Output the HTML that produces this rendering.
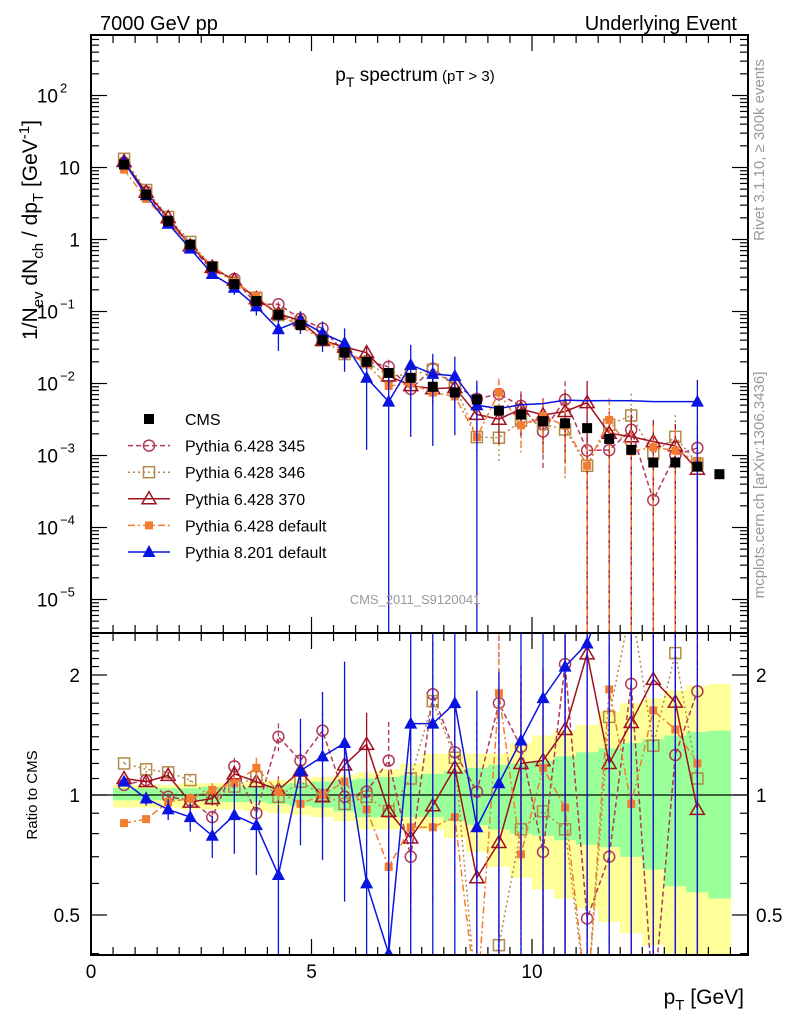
<!DOCTYPE html>
<html><head><meta charset="utf-8"><style>
html,body{margin:0;padding:0;background:#fff;width:786px;height:1024px;overflow:hidden;}
svg{display:block;font-family:"Liberation Sans",sans-serif;}
</style></head><body>
<svg id="chart" width="786" height="1024" viewBox="0 0 786 1024" xmlns="http://www.w3.org/2000/svg">
<defs>
<clipPath id="clipTop"><rect x="91" y="35" width="657" height="598"/></clipPath>
<clipPath id="clipBot"><rect x="91" y="633" width="657" height="322"/></clipPath>
</defs>
<rect width="786" height="1024" fill="#fff"/>
<g id="bands" clip-path="url(#clipBot)"></g>
<g id="marksTop" clip-path="url(#clipTop)"></g>
<g id="marksBot" clip-path="url(#clipBot)"></g>
<g id="axes"></g>
<text x="100" y="30" font-size="20">7000 GeV pp</text>
<text x="737" y="30" font-size="20" text-anchor="end">Underlying Event</text>
<text x="415" y="81" font-size="19" text-anchor="middle">p<tspan font-size="14" dy="6">T</tspan><tspan dy="-6"> spectrum</tspan><tspan font-size="15"> (pT &gt;  3)</tspan></text>
<text x="415" y="604" font-size="13" fill="#999" text-anchor="middle">CMS_2011_S9120041</text>
<text transform="translate(764,150) rotate(-90)" font-size="15" fill="#999" text-anchor="middle">Rivet 3.1.10, ≥ 300k events</text>
<text transform="translate(764,485) rotate(-90)" font-size="15" fill="#999" text-anchor="middle">mcplots.cern.ch [arXiv:1306.3436]</text>
<text transform="translate(37,230) rotate(-90)" font-size="21" text-anchor="middle">1/N<tspan font-size="15" dy="6">ev</tspan><tspan dy="-6"> dN</tspan><tspan font-size="15" dy="6">ch</tspan><tspan dy="-6"> / dp</tspan><tspan font-size="15" dy="6">T</tspan><tspan dy="-6"> [GeV</tspan><tspan font-size="15" dy="-8">-1</tspan><tspan dy="8">]</tspan></text>
<text transform="translate(37,795) rotate(-90)" font-size="15" text-anchor="middle">Ratio to CMS</text>
<text x="744" y="1004" font-size="21" text-anchor="end">p<tspan font-size="15" dy="6">T</tspan><tspan dy="-6"> [GeV]</tspan></text>
<g id="legend"></g>
</svg>
<script>
// ---- data ----
const binCenters = [0.75,1.25,1.75,2.25,2.75,3.25,3.75,4.25,4.75,5.25,5.75,6.25,6.75,7.25,7.75,8.25,8.75,9.25,9.75,10.25,10.75,11.25,11.75,12.25,12.75,13.25,13.75,14.25];
const cmsValues = [11,4.2,1.8,0.85,0.42,0.24,0.14,0.09,0.065,0.04,0.027,0.02,0.014,0.012,0.009,0.0075,0.006,0.0042,0.0037,0.003,0.0028,0.0024,0.0017,0.0012,0.0008,0.0008,0.0007,0.00055];
const bandYellowUp = [1.06,1.06,1.06,1.07,1.07,1.07,1.08,1.09,1.10,1.11,1.12,1.14,1.16,1.20,1.27,1.27,1.27,1.27,1.35,1.41,1.45,1.50,1.62,1.70,1.75,1.83,1.88,1.90];
const bandYellowDown = [0.93,0.93,0.93,0.92,0.92,0.92,0.91,0.90,0.89,0.88,0.86,0.82,0.82,0.82,0.82,0.78,0.72,0.66,0.62,0.58,0.55,0.52,0.48,0.45,0.42,0.40,0.37,0.35];
const bandGreenUp = [1.04,1.04,1.04,1.04,1.05,1.05,1.05,1.06,1.07,1.08,1.09,1.10,1.11,1.12,1.13,1.15,1.17,1.19,1.20,1.22,1.25,1.28,1.31,1.35,1.38,1.41,1.44,1.45];
const bandGreenDown = [0.97,0.97,0.97,0.97,0.96,0.96,0.96,0.95,0.94,0.93,0.91,0.88,0.88,0.88,0.88,0.86,0.84,0.82,0.80,0.79,0.77,0.75,0.74,0.70,0.65,0.59,0.57,0.55];
const ratio345 = [1.06,1.09,0.99,0.97,0.88,1.18,0.90,1.40,1.22,1.45,0.99,1.02,1.22,0.70,1.79,1.28,1.02,1.70,1.32,0.72,2.13,0.49,0.70,1.90,0.30,1.26,1.82];
const ratio346 = [1.20,1.16,1.14,1.09,0.98,1.05,1.11,0.99,1.08,1.00,0.95,0.99,0.91,1.10,1.72,1.24,0.30,0.42,0.82,0.91,0.82,0.30,1.57,3.00,1.33,2.27,1.10];
const ratio370 = [1.10,1.08,1.12,0.96,0.98,1.13,1.08,1.03,1.15,0.99,1.19,1.34,0.91,0.78,0.94,1.17,0.62,0.76,1.20,1.22,1.46,2.26,1.20,1.52,1.95,1.71,0.92];
const ratio6def = [0.85,0.87,0.96,0.98,1.03,1.07,1.17,1.02,0.95,1.00,1.08,0.92,0.66,0.83,0.83,0.88,0.30,1.80,0.71,1.17,0.93,0.30,1.84,0.95,1.63,1.46,1.20];
const ratio8def = [1.08,0.98,0.92,0.88,0.79,0.89,0.84,0.63,1.15,1.25,1.35,0.60,0.40,1.51,1.51,1.70,0.83,1.07,1.37,1.75,2.10,2.40,3.40,4.80,7.0,7.0,8.0];
const relErr8 = [0.02,0.04,0.06,0.08,0.12,0.2,0.25,0.5,0.35,0.45,0.6,0.9,1.2,0.9,0.9,0.85,1.2,0.9,0.9,0.9,0.9,0.9,0.9,1.0,1.0,1.0,1.0];
const relErrOther = [0.01,0.02,0.02,0.03,0.04,0.05,0.06,0.08,0.1,0.12,0.15,0.2,0.25,0.3,0.35,0.4,0.5,0.55,0.6,0.7,0.8,1.0,1.0,1.0,1.0,1.0,1.0];
const xTickLabels = ["0","5","10"];
const yTopTickLabels = ["10","1"];

// ---- axes functions ----
const X0=91, X1=748, YT0=35, YT1=633, YB1=955;
const xPx = v => 91 + v*44.1;
const yTop = v => 167.5 - (Math.log10(v)-1)*72;
const yBot = r => 795 - Math.log10(r)*398.6;
const clampT = y => Math.max(YT0-5, Math.min(YT1+5, y));
const clampB = y => Math.max(YT1-5, Math.min(YB1+5, y));
const NS='http://www.w3.org/2000/svg';
function mk(tag, attrs, parent){const e=document.createElementNS(NS,tag);for(const k in attrs)e.setAttribute(k,attrs[k]);parent.appendChild(e);return e;}

const bandsG=document.getElementById('bands');
const topG=document.getElementById('marksTop');
const botG=document.getElementById('marksBot');
const axG=document.getElementById('axes');
const legG=document.getElementById('legend');

binCenters.forEach((c,i)=>{
  const xa=xPx(c-0.25), xb=xPx(c+0.25);
  const yu=yBot(bandYellowUp[i]), yd=clampB(yBot(bandYellowDown[i]));
  let r=mk('rect',{x:xa,y:yu,width:xb-xa+0.5,height:yd-yu,fill:'#ffff99'},bandsG);
  
  
  r=mk('rect',{x:xa,y:yBot(bandGreenUp[i]),width:xb-xa+0.5,height:yBot(bandGreenDown[i])-yBot(bandGreenUp[i]),fill:'#99ff99'},bandsG);
  
  
});
let l1=mk('line',{x1:X0,x2:X1,y1:yBot(1),y2:yBot(1),stroke:'#000','stroke-width':1.2},botG);



function marker(g,type,x,y,color,name){
  let e;
  if(type==='fsq'){e=mk('rect',{x:x-5,y:y-5,width:10,height:10,fill:color},g);}
  else if(type==='fsqs'){e=mk('rect',{x:x-4,y:y-4,width:8,height:8,fill:color},g);}
  else if(type==='osq'){e=mk('rect',{x:x-5.5,y:y-5.5,width:11,height:11,fill:'none',stroke:color,'stroke-width':1.5},g);}
  else if(type==='oc'){e=mk('circle',{cx:x,cy:y,r:5.5,fill:'none',stroke:color,'stroke-width':1.5},g);}
  else if(type==='otr'){e=mk('polygon',{points:`${x},${y-7} ${x-7},${y+5} ${x+7},${y+5}`,fill:'none',stroke:color,'stroke-width':1.5},g);}
  else {e=mk('polygon',{points:`${x},${y-7} ${x-6.5},${y+5} ${x+6.5},${y+5}`,fill:color},g);}
  
  
}

const series=[
 {name:'pythia-6428-345',ratio:ratio345,err:relErrOther,color:'#b03a5a',dash:'5,3',mk:'oc'},
 {name:'pythia-6428-346',ratio:ratio346,err:relErrOther,color:'#b08a48',dash:'2,3',mk:'osq'},
 {name:'pythia-6428-370',ratio:ratio370,err:relErrOther,color:'#a01020',dash:'',mk:'otr'},
 {name:'pythia-6428-default',ratio:ratio6def,err:relErrOther,color:'#f47c30',dash:'7,3,2,3',mk:'fsqs'},
 {name:'pythia-8201-default',ratio:ratio8def,err:relErr8,color:'#0a14e0',dash:'',mk:'ftr',hideTop:[17,18,19,20,21,22,23,24,25]}
];

series.forEach(s=>{
  const n=s.ratio.length;
  const ptsT=[],ptsB=[];
  for(let i=0;i<n;i++){
    const x=xPx(binCenters[i]);
    const v=s.ratio[i]*cmsValues[i];
    ptsT.push(x+','+yTop(v)); ptsB.push(x+','+yBot(s.ratio[i]));
  }
  let p=mk('polyline',{points:ptsT.join(' '),fill:'none',stroke:s.color,'stroke-width':1.5,'stroke-dasharray':s.dash},topG);
  
  
  p=mk('polyline',{points:ptsB.join(' '),fill:'none',stroke:s.color,'stroke-width':1.5,'stroke-dasharray':s.dash},botG);
  
  
  for(let i=0;i<n;i++){
    const x=xPx(binCenters[i]);
    const v=s.ratio[i]*cmsValues[i], e=s.err[i];
    const hidden=s.hideTop&&s.hideTop.includes(i);
    if(!hidden){
      const lo=v*(1-e)>0?clampT(yTop(v*(1-e))):YT1+5;
      let eb=mk('line',{x1:x,x2:x,y1:clampT(yTop(v*(1+e))),y2:lo,stroke:s.color,'stroke-width':1.3,'stroke-dasharray':s.dash},topG);
      
      
      marker(topG,s.mk,x,yTop(v),s.color,s.name+'-point');
    }
    const r=s.ratio[i];
    const lob=r*(1-e)>0?clampB(yBot(r*(1-e))):YB1+5;
    let eb2=mk('line',{x1:x,x2:x,y1:clampB(yBot(r*(1+e))),y2:lob,stroke:s.color,'stroke-width':1.3,'stroke-dasharray':s.dash},botG);
    
    
    const yr=yBot(r);
    if(yr>YT1-10 && yr<YB1+10) marker(botG,s.mk,x,yr,s.color,s.name+'-ratio-point');
  }
});
binCenters.forEach((c,i)=>{
  marker(topG,'fsq',xPx(c),yTop(cmsValues[i]),'#000','cms-point');
});

[[YT0,YT1],[YT1,YB1]].forEach((f,k)=>{
  const r=mk('rect',{x:X0,y:f[0],width:X1-X0,height:f[1]-f[0],fill:'none',stroke:'#000','stroke-width':2},axG);
  
  
});
for(let k=0;k<=29;k++){
  const v=k*0.5, x=xPx(v); if(x>X1)break;
  const len=(k%10===0)?16:8;
  [[YT0,1],[YT1,-1],[YT1,1],[YB1,-1]].forEach(t=>{
    const tk=mk('line',{x1:x,x2:x,y1:t[0],y2:t[0]+t[1]*len,stroke:'#000','stroke-width':1.2},axG);
    
    
  });
}
xTickLabels.forEach(t=>{
  const tl=mk('text',{x:xPx(+t),y:978,'font-size':19,'text-anchor':'middle'},axG);
  tl.textContent=t;
  
  
});
for(let d=-6;d<=2;d++){
  for(let m=1;m<=9;m++){
    const y=yTop(m*Math.pow(10,d)); if(y<YT0||y>YT1)continue;
    const len=m===1?16:8;
    [[X0,1],[X1,-1]].forEach(t=>{
      const tk=mk('line',{x1:t[0],x2:t[0]+t[1]*len,y1:y,y2:y,stroke:'#000','stroke-width':1.2},axG);
      
      
    });
  }
}
yTopTickLabels.forEach(t=>{
  const tl=mk('text',{x:80,y:yTop(+t)+7,'font-size':19,'text-anchor':'end'},axG);
  tl.textContent=t;
  
  
});
[-1,-2,-3,-4,-5,2].forEach(d=>{
  const tl=mk('text',{x:58,y:yTop(Math.pow(10,d))+7,'font-size':19,'text-anchor':'end'},axG);
  tl.textContent='10';
  
  
  const ex=mk('text',{x:60,y:yTop(Math.pow(10,d))-3,'font-size':13},axG);
  ex.textContent=d>0?String(d):'\u2212'+(-d);
  
  
});
[0.4,0.5,0.6,0.7,0.8,0.9,1,2].forEach(r=>{
  const y=yBot(r); const len=(r===0.5||r===1||r===2)?16:8;
  [[X0,1],[X1,-1]].forEach(t=>{
    const tk=mk('line',{x1:t[0],x2:t[0]+t[1]*len,y1:y,y2:y,stroke:'#000','stroke-width':1.2},axG);
    
    
  });
});
for(let r=1.1;r<2.55;r+=0.1){
  if(Math.abs(r-2)<0.01)continue;
  const y=yBot(r);
  [[X0,1],[X1,-1]].forEach(t=>{
    const tk=mk('line',{x1:t[0],x2:t[0]+t[1]*8,y1:y,y2:y,stroke:'#000','stroke-width':1.2},axG);
    
    
  });
}
[['2',2],['1',1],['0.5',0.5]].forEach(t=>{
  [[80,'end'],[756,'start']].forEach(p=>{
    const tl=mk('text',{x:p[0],y:yBot(t[1])+7,'font-size':19,'text-anchor':p[1]},axG);
    tl.textContent=t[0];
    
    
  });
});

const legEntries=[['CMS','fsq','#000',''],['Pythia 6.428 345','oc','#b03a5a','5,3'],['Pythia 6.428 346','osq','#b08a48','2,3'],['Pythia 6.428 370','otr','#a01020',''],['Pythia 6.428 default','fsqs','#f47c30','7,3,2,3'],['Pythia 8.201 default','ftr','#0a14e0','']];
legEntries.forEach((e,i)=>{
  const y=419+i*26.6;
  if(i>0){
    const ln=mk('line',{x1:128,x2:170,y1:y,y2:y,stroke:e[2],'stroke-width':1.5,'stroke-dasharray':e[3]},legG);
    
    
  }
  marker(legG,e[1],149,y,e[2],'legend-marker');
  const t=mk('text',{x:185,y:y+6,'font-size':16},legG);
  t.textContent=e[0];
  
  
});
</script>
</body></html>
